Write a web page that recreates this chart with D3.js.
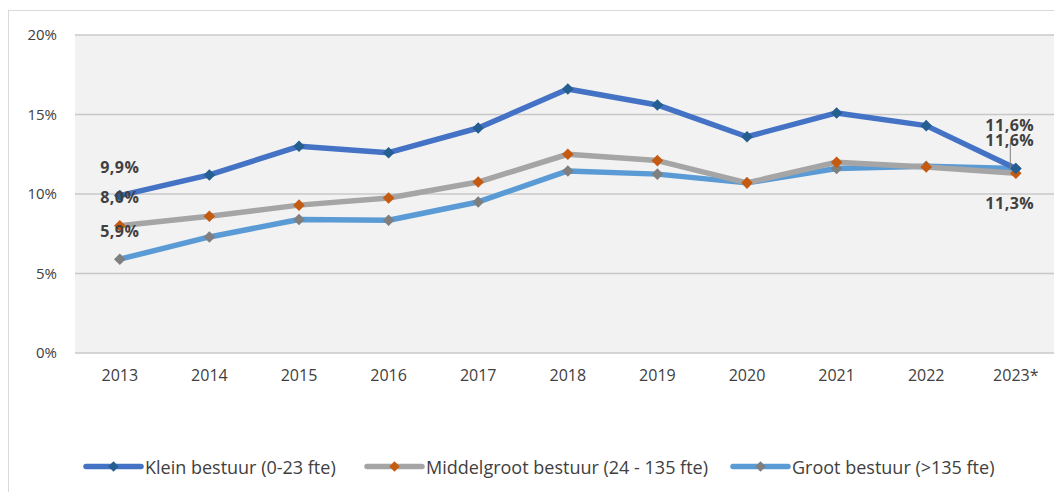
<!DOCTYPE html>
<html>
<head>
<meta charset="utf-8">
<script src="https://cdn.jsdelivr.net/npm/d3@7"></script>
<style>
  body { margin: 0; background: #fff; }
  svg { display: block; }
</style>
</head>
<body>
<script>
const width = 1054;
const height = 492;

// data
const years = ["2013", "2014", "2015", "2016", "2017", "2018", "2019", "2020", "2021", "2022", "2023*"];
const klein = [9.9, 11.2, 13.0, 12.6, 14.15, 16.6, 15.6, 13.6, 15.1, 14.3, 11.6];
const middel = [8.0, 8.6, 9.3, 9.75, 10.75, 12.5, 12.1, 10.7, 12.0, 11.7, 11.3];
const groot = [5.9, 7.3, 8.4, 8.35, 9.5, 11.45, 11.25, 10.7, 11.6, 11.75, 11.6];
const yTicks = [0, 5, 10, 15, 20];

const series = [
    { name: "Klein bestuur (0-23 fte)", values: klein, line: "#4472C4", marker: "#255E91" },
    { name: "Middelgroot bestuur (24 - 135 fte)", values: middel, line: "#A5A5A5", marker: "#C55A11" },
    { name: "Groot bestuur (>135 fte)", values: groot, line: "#5B9BD5", marker: "#7F7F7F" }
];

const font = "'Open Sans', 'Noto Sans', sans-serif";

const svg = d3.select("body").append("svg")
    .attr("width", width)
    .attr("height", height);

// outer chart frame
svg.append("rect")
    .attr("x", 8.5).attr("y", 10.5)
    .attr("width", width + 10).attr("height", height + 10)
    .attr("fill", "#fff")
    .attr("stroke", "#D9D9D9");

const plot = { left: 75, top: 35, right: 1060.6, bottom: 353 };

const x = d3.scaleBand().domain(years).range([plot.left, plot.right]);
const y = d3.scaleLinear().domain([0, 20]).range([plot.bottom, plot.top]);

svg.append("rect")
    .attr("x", plot.left).attr("y", plot.top)
    .attr("width", plot.right - plot.left).attr("height", plot.bottom - plot.top)
    .attr("fill", "#F2F2F2");

// grid lines
svg.append("g").selectAll("line")
    .data(yTicks)
    .join("line")
    .attr("x1", plot.left).attr("x2", plot.right)
    .attr("y1", d => y(d)).attr("y2", d => y(d))
    .attr("stroke", "#C8C8C8")
    .attr("stroke-width", 1.5);

// y axis
const yAxis = svg.append("g")
    .attr("transform", `translate(${plot.left},0)`)
    .call(d3.axisLeft(y).tickValues(yTicks).tickFormat(d => d + "%").tickSize(0).tickPadding(18));
yAxis.select(".domain").remove();
yAxis.selectAll("text")
    .attr("font-family", font).attr("font-size", "15px").attr("fill", "#404040");

// x axis
const xAxis = svg.append("g")
    .attr("transform", `translate(0,${plot.bottom})`)
    .call(d3.axisBottom(x).tickSize(0).tickPadding(17));
xAxis.select(".domain").remove();
xAxis.selectAll("text")
    .attr("font-family", font).attr("font-size", "16px").attr("fill", "#404040");

const line = d3.line()
    .x((d, i) => x(years[i]) + x.bandwidth() / 2)
    .y(d => y(d));

const diamond = d3.symbol().type(d3.symbolDiamond2).size(85);

// draw series in reverse so Klein sits on top
series.slice().reverse().forEach(s => {
    svg.append("path")
        .datum(s.values)
        .attr("fill", "none")
        .attr("stroke", s.line)
        .attr("stroke-width", 5.5)
        .attr("stroke-linejoin", "round")
        .attr("d", line);

    svg.append("g").selectAll("path")
        .data(s.values)
        .join("path")
        .attr("transform", (d, i) => `translate(${x(years[i]) + x.bandwidth() / 2},${y(d)})`)
        .attr("d", diamond)
        .attr("fill", s.marker);
});

// data labels on first and last points
const labelStyle = sel => sel
    .attr("font-family", font)
    .attr("font-size", "16px")
    .attr("font-weight", "bold")
    .attr("letter-spacing", "0.5px")
    .attr("fill", "#404040")
    .attr("text-anchor", "middle")
    .attr("dominant-baseline", "central");

const fmt = v => v.toFixed(1).replace(".", ",") + "%";
const x0 = x(years[0]) + x.bandwidth() / 2;
const xN = x(years[years.length - 1]) + x.bandwidth() / 2;

// first year labels
[klein[0], middel[0], groot[0]].forEach(v => {
    svg.append("text").call(labelStyle)
        .attr("x", x0).attr("y", y(v) - 28.5)
        .text(fmt(v));
});

// last year labels
svg.append("line")
    .attr("x1", xN - 5.5).attr("x2", xN - 5.5)
    .attr("y1", y(klein[10]) - 26).attr("y2", y(klein[10]))
    .attr("stroke", "#7F7F7F");

svg.append("text").call(labelStyle)
    .attr("x", xN - 6).attr("y", y(klein[10]) - 44)
    .text(fmt(klein[10]));
svg.append("text").call(labelStyle)
    .attr("x", xN - 6).attr("y", y(groot[10]) - 28.5)
    .text(fmt(groot[10]));
svg.append("text").call(labelStyle)
    .attr("x", xN - 6).attr("y", y(middel[10]) + 30)
    .text(fmt(middel[10]));

// legend
const legendX = [86, 367, 733];
const legend = svg.append("g");
series.forEach((s, i) => {
    const g = legend.append("g").attr("transform", `translate(${legendX[i]},466.5)`);
    g.append("line")
        .attr("x1", 0).attr("x2", 55)
        .attr("stroke", s.line).attr("stroke-width", 5.5)
        .attr("stroke-linecap", "round");
    g.append("path")
        .attr("transform", "translate(27.5,0)")
        .attr("d", d3.symbol().type(d3.symbolDiamond2).size(70))
        .attr("fill", s.marker);
    g.append("text")
        .attr("x", 59).attr("y", 0)
        .attr("dominant-baseline", "central")
        .attr("font-family", font)
        .attr("font-size", "18px")
        .attr("fill", "#404040")
        .text(s.name);
});
</script>
</body>
</html>
